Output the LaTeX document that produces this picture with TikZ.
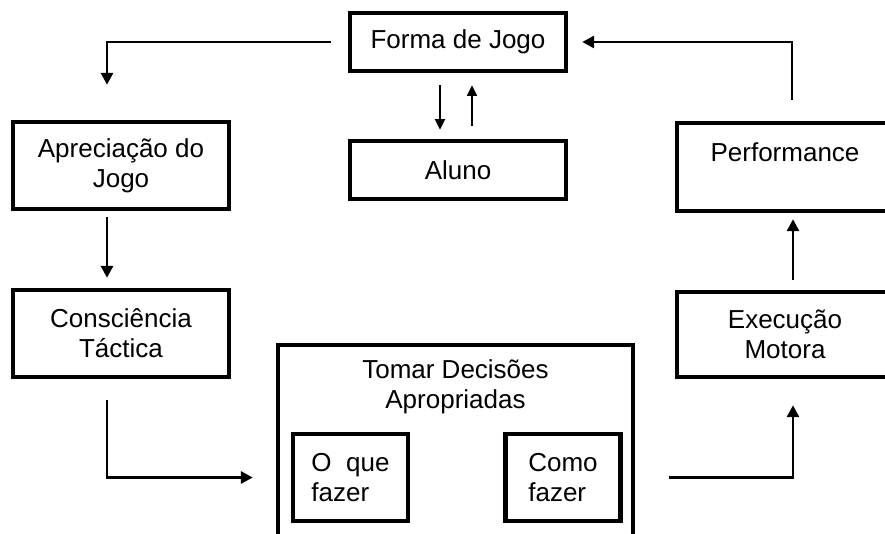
\documentclass[tikz,border=0pt]{standalone}
\usepackage{fontspec}
\setmainfont{Liberation Sans}
\usetikzlibrary{arrows.meta,calc}

\tikzset{
  box/.style={draw, line width=3.3pt, minimum width=162pt, align=center, inner sep=2pt},
  smallbox/.style={draw, line width=3.3pt, minimum width=86pt, minimum height=65.25pt, align=left, inner sep=2pt},
  arr/.style={line width=2.2pt, -{Triangle[width=9pt,length=9pt]}},
  thinarr/.style={line width=1.4pt, -{Triangle[width=7.5pt,length=8pt]}}
}

\begin{document}
\begin{tikzpicture}[x=0.75pt,y=-0.75pt, font=\fontsize{19.5}{22.5}\selectfont]
        \useasboundingbox (0,0) rectangle (885,533);
        \clip (0,0) rectangle (885,533);

        % Top: game form and student
        \node[box, minimum height=43.5pt] (forma) at (458,42) {Forma de Jogo};
        \node[box, minimum height=43.5pt] (aluno) at (458,170) {Aluno};

        % Left column
        \node[box, minimum height=65.25pt] (aprec) at (121,165.5) {Apreciação do\\Jogo};
        \node[box, minimum height=65.25pt] (cons) at (121,333.5) {Consciência\\Táctica};

        % Right column
        \node[box, minimum height=66pt] (perf) at (785,167) {Performance\\~};
        \node[box, minimum height=63.75pt] (exec) at (785,334.5) {Execução\\Motora};

        % Decision box with the two inner boxes
        \node[box, minimum width=266.25pt, minimum height=144pt] (tomar) at (455.5,441) {};
        \node[align=center] (tomartxt) at (455.5,387) {Tomar Decisões\\Apropriadas};
        \node[smallbox] (oque) at (350.5,477.5) {O\ \ que\\fazer};
        \node[smallbox] (como) at (563,477.5) {Como\\fazer};

        % Cycle arrows
        \draw[arr, shorten <=12.75pt, shorten >=26.25pt] (forma.west) -| ($(aprec.north)+(-14,0)$);
        \draw[arr, shorten <=4.5pt, shorten >=7.5pt] ($(aprec.south)+(-14,0)$) -- ($(cons.north)+(-14,0)$);
        \draw[arr, shorten <=15.75pt, shorten >=17.25pt] ($(cons.south)+(-14,0)$) |- (tomar.west |- oque.west);
        \draw[arr, shorten <=25.5pt, shorten >=19.5pt] (tomar.east |- como.east) -| ($(exec.south)+(8,0)$);
        \draw[arr, shorten <=7.5pt, shorten >=4.5pt] ($(exec.north)+(8,0)$) -- ($(perf.south)+(8,0)$);
        \draw[arr, shorten <=15.75pt, shorten >=10.5pt] ($(perf.north)+(7,0)$) |- (forma.east);

        % Game form <-> student
        \draw[thinarr, shorten <=9pt, shorten >=6.75pt] ($(forma.south)+(-18,0)$) -- ($(aluno.north)+(-18,0)$);
        \draw[thinarr, shorten <=9.75pt, shorten >=9pt] ($(aluno.north)+(14,0)$) -- ($(forma.south)+(14,0)$);

\end{tikzpicture}
\end{document}
